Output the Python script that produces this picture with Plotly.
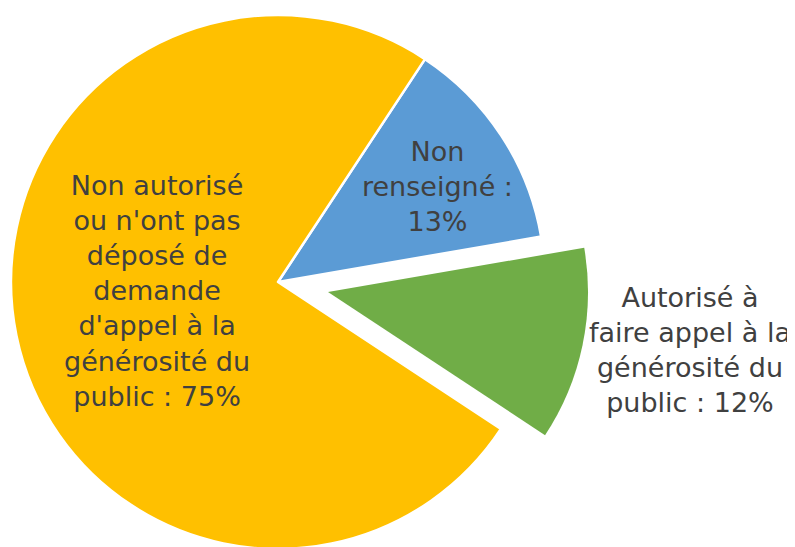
import plotly.graph_objects as go

# ---- data ----
categories = ["Non renseigné", "Autorisé à faire appel à la générosité du public",
              "Non autorisé ou n'ont pas déposé de demande d'appel à la générosité du public"]
values = [13, 12, 75]
label_lines = ["Non<br>renseigné :",
               "Autorisé à<br>faire appel à la<br>générosité du<br>public :",
               "Non autorisé<br>ou n'ont pas<br>déposé de<br>demande<br>d'appel à la<br>générosité du<br>public :"]
value_sep = ["<br>", " ", " "]
colors = ["#5B9BD5", "#70AD47", "#FFC000"]
exploded = [False, True, False]

W, H = 795, 547
PAGE_OFFSET = 8  # default body margin of the html page
TRANSPARENT = "rgba(0,0,0,0)"


def px(x, y):
    """page pixel -> paper fraction"""
    return (x - PAGE_OFFSET) / W, 1 - (y - PAGE_OFFSET) / H


def domain(cx, cy, r):
    x0, y1 = px(cx - r, cy - r)
    x1, y0 = px(cx + r, cy + r)
    return dict(x=[max(0, x0), min(1, x1)], y=[max(0, y0), min(1, y1)])


rotation = 33.4

fig = go.Figure()
# main pie (non-exploded slices)
fig.add_trace(go.Pie(
    labels=categories, values=values, sort=False, direction="clockwise",
    rotation=rotation, textinfo="none", hoverinfo="label+percent",
    marker=dict(colors=[TRANSPARENT if e else c for c, e in zip(colors, exploded)],
                line=dict(color=[TRANSPARENT if e else "white" for e in exploded], width=2.5)),
    domain=domain(278, 282, 267), showlegend=False,
))
# exploded slice
fig.add_trace(go.Pie(
    labels=categories, values=values, sort=False, direction="clockwise",
    rotation=rotation, textinfo="none", hoverinfo="label+percent",
    marker=dict(colors=[c if e else TRANSPARENT for c, e in zip(colors, exploded)],
                line=dict(color=TRANSPARENT, width=0)),
    domain=domain(328, 292, 260), showlegend=False,
))

label_pos = [(437, 187), (690, 350), (157, 291)]
for (x, y), lab, sep, v in zip(label_pos, label_lines, value_sep, values):
    ax, ay = px(x, y)
    fig.add_annotation(x=ax, y=ay, xref="paper", yref="paper",
                       text=f"{lab}{sep}{v}%", showarrow=False, align="center",
                       xanchor="center", yanchor="middle",
                       font=dict(family="DejaVu Sans", size=27, color="#404040"))

fig.update_layout(width=W, height=H, margin=dict(l=0, r=0, t=0, b=0),
                  paper_bgcolor="white", plot_bgcolor="white")
fig.write_html("out.html")
